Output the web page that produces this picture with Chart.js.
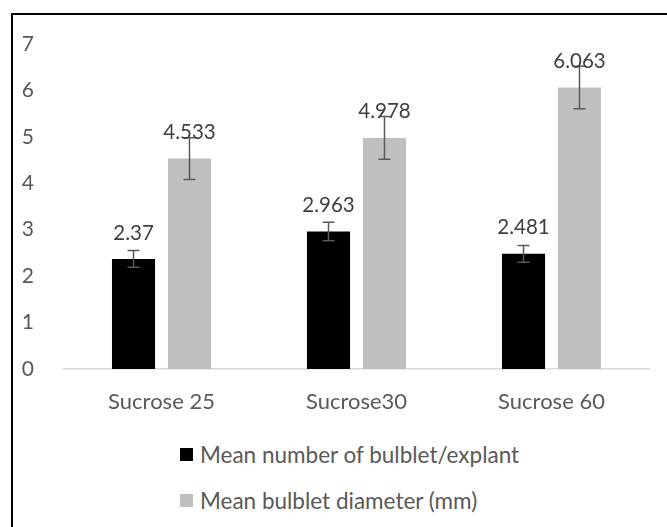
<!DOCTYPE html>
<html lang="en">
<head>
    <meta charset="UTF-8">
    <title>Bulblet chart</title>
    <style>
        body { margin: 0; background: #fff; font-family: Lato, sans-serif; overflow: hidden; }
        .frame {
            position: absolute; left: 11px; top: 13px;
            width: 700px; height: 600px;
            border-top: 2px solid #000;
            border-left: 2px solid #000;
        }
        #chart { position: absolute; left: 0; top: 0; }
        .legend-item {
            position: absolute; left: 180px;
            display: flex; align-items: center;
            color: #595959; font-size: 22.5px; height: 30px;
        }
        .legend-box { width: 13px; height: 13px; margin-right: 7px; }
    </style>
</head>
<body>
    <div class="frame"></div>
    <canvas id="chart" width="667" height="430"></canvas>
    <div id="legend"></div>

    <script src="https://cdn.jsdelivr.net/npm/chart.js"></script>
    <script>
        const categories = ['Sucrose 25', 'Sucrose30', 'Sucrose 60'];
        const seriesNames = ['Mean number of bulblet/explant', 'Mean bulblet diameter (mm)'];
        const bulbletNumber = [2.37, 2.963, 2.481];
        const bulbletDiameter = [4.533, 4.978, 6.063];
        const numberErr = [0.18, 0.2, 0.18];
        const diameterErr = [0.45, 0.46, 0.46];
        const seriesColors = ['#000000', '#bfbfbf'];
        const yTicks = [0, 1, 2, 3, 4, 5, 6, 7];

        const textColor = '#595959';
        const errors = [numberErr, diameterErr];

        // draws the error bars and the value labels on top of the bars
        const errorBarPlugin = {
            id: 'errorBars',
            afterDatasetsDraw(chart) {
                const ctx = chart.ctx;
                const yScale = chart.scales.y;
                chart.data.datasets.forEach((ds, di) => {
                    const meta = chart.getDatasetMeta(di);
                    meta.data.forEach((bar, i) => {
                        const v = ds.data[i];
                        const e = errors[di][i];
                        const top = yScale.getPixelForValue(v + e);
                        const bottom = yScale.getPixelForValue(v - e);
                        ctx.save();
                        ctx.strokeStyle = '#595959';
                        ctx.lineWidth = 1.5;
                        ctx.beginPath();
                        ctx.moveTo(bar.x, top);
                        ctx.lineTo(bar.x, bottom);
                        ctx.moveTo(bar.x - 6, top);
                        ctx.lineTo(bar.x + 6, top);
                        ctx.moveTo(bar.x - 6, bottom);
                        ctx.lineTo(bar.x + 6, bottom);
                        ctx.stroke();

                        ctx.fillStyle = '#404040';
                        ctx.font = '20.5px Lato';
                        ctx.textAlign = 'center';
                        ctx.textBaseline = 'middle';
                        ctx.fillText(String(v), bar.x, bar.y - 26);
                        ctx.restore();
                    });
                });
            }
        };

        const chart = new Chart(document.getElementById('chart').getContext('2d'), {
            type: 'bar',
            data: {
                labels: categories,
                datasets: [
                    { label: seriesNames[0], data: bulbletNumber, backgroundColor: seriesColors[0] },
                    { label: seriesNames[1], data: bulbletDiameter, backgroundColor: seriesColors[1] }
                ]
            },
            options: {
                responsive: false,
                animation: false,
                categoryPercentage: 0.574,
                barPercentage: 0.77,
                layout: { padding: { left: 0, right: 18, top: 44, bottom: 0 } },
                plugins: {
                    legend: { display: false },
                    tooltip: { enabled: false }
                },
                scales: {
                    x: {
                        grid: { display: false },
                        border: { color: '#d9d9d9', width: 1.5 },
                        ticks: { color: textColor, font: { family: 'Lato', size: 22 }, padding: 12 },
                        afterFit(axis) {
                            axis.height = 61;
                            axis.paddingLeft = 0;
                            axis.paddingRight = 0;
                        }
                    },
                    y: {
                        min: 0,
                        max: 7,
                        grid: { display: false },
                        border: { display: false },
                        afterBuildTicks(axis) { axis.ticks = yTicks.map(v => ({ value: v })); },
                        ticks: { color: textColor, font: { family: 'Lato', size: 21 }, padding: 22 },
                        afterFit(axis) {
                            axis.width = 64;
                            axis.paddingTop = 0;
                            axis.paddingBottom = 0;
                        }
                    }
                }
            },
            plugins: [errorBarPlugin]
        });

        // legend stacked vertically like the original
        const legend = document.getElementById('legend');
        chart.data.datasets.forEach((ds, i) => {
            const item = document.createElement('div');
            item.className = 'legend-item';
            item.style.top = (439 + i * 46) + 'px';
            item.innerHTML = '<span class="legend-box" style="background:' + ds.backgroundColor + '"></span>' + ds.label;
            legend.appendChild(item);
        });
    </script>
</body>
</html>
